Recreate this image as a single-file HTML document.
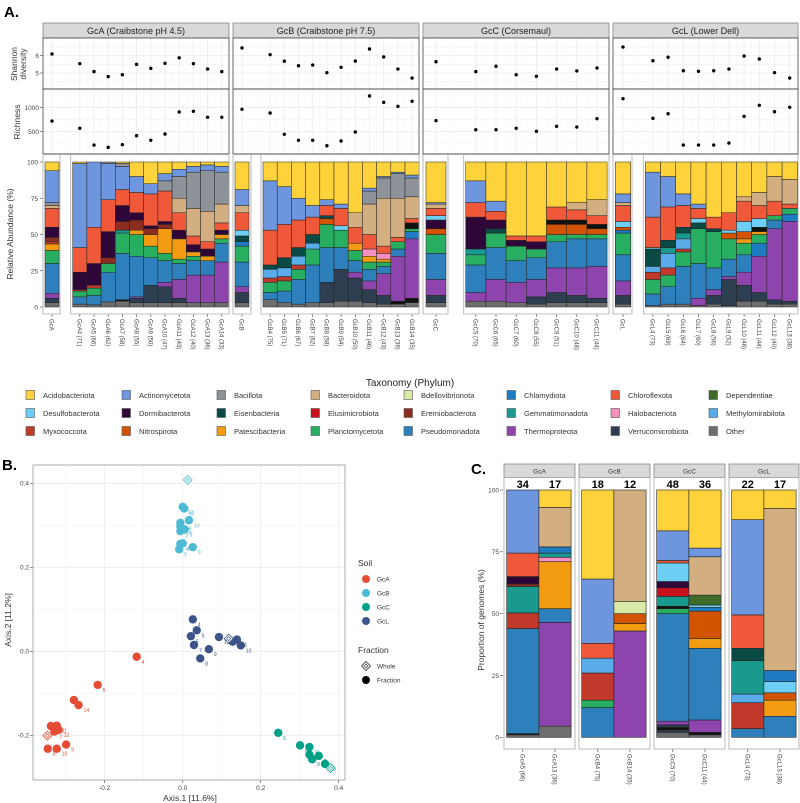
<!DOCTYPE html>
<html><head><meta charset="utf-8"><style>
html,body{margin:0;padding:0;background:#fff}
svg{display:block;font-family:"Liberation Sans","DejaVu Sans",sans-serif}
</style></head><body>
<svg id="fig" width="800" height="803" viewBox="0 0 800 803" xmlns="http://www.w3.org/2000/svg"></svg>
<script>
// ---------- DATA ----------
const phylumNames = ['Acidobacteriota','Actinomycetota','Bacillota','Bacteroidota','Bdellovibrionota','Chlamydiota','Chloroflexota','Dependentiae','Desulfobacterota','Dormibacterota','Eisenbacteria','Elusimicrobiota','Eremiobacterota','Gemmatimonadota','Halobacteriota','Methylomirabilota','Myxococcota','Nitrospirota','Patescibacteria','Planctomycetota','Pseudomonadota','Thermoproteota','Verrucomicrobiota','Other'];
const phylumCodes = ['Ac','At','Bc','Bd','Bv','Ch','Cf','De','Ds','Do','Ei','El','Er','Ge','Ha','Me','My','Ni','Pa','Pl','Ps','Th','Ve','Ot'];
const phylumColors = ['#FDD23A','#6E96DE','#8D9399','#D2AE80','#D9E8A4','#1F7BC1','#F0583A','#3E6B2A','#6DCFF6','#2E0637','#0A4A45','#C8101E','#8B2E1F','#1A9A8E','#F690C0','#5AABEA','#C0392B','#D35400','#F39C12','#27AE60','#2E80BD','#8E44AD','#2C3E50','#6E6E6E'];

const panelTitles = ['GcA (Craibstone pH 4.5)','GcB (Craibstone pH 7.5)','GcC (Corsemaul)','GcL (Lower Dell)'];
const sampleNames = [
 ['GcA','GcA4 (71)','GcA5 (66)','GcA6 (62)','GcA7 (58)','GcA8 (55)','GcA9 (50)','GcA10 (47)','GcA11 (43)','GcA12 (40)','GcA13 (36)','GcA14 (33)'],
 ['GcB','GcB4 (75)','GcB5 (71)','GcB6 (67)','GcB7 (62)','GcB8 (58)','GcB9 (54)','GcB10 (50)','GcB11 (46)','GcB12 (43)','GcB13 (39)','GcB14 (35)'],
 ['GcC','GcC5 (70)','GcC6 (65)','GcC7 (60)','GcC8 (55)','GcC9 (51)','GcC10 (48)','GcC11 (44)'],
 ['GcL','GcL4 (73)','GcL5 (69)','GcL6 (64)','GcL7 (60)','GcL8 (56)','GcL9 (52)','GcL10 (48)','GcL11 (44)','GcL12 (40)','GcL13 (38)']
];
const shannonValues = [
 [6.1,5.54,5.08,4.79,4.9,5.5,5.27,5.56,5.88,5.54,5.23,5.08],
 [6.45,6.06,5.68,5.42,5.46,5.02,5.33,5.69,6.39,5.93,5.23,4.71],
 [5.65,5.08,5.39,4.9,4.81,5.23,5.12,5.29],
 [6.5,5.71,5.91,5.13,5.1,5.13,5.23,5.98,5.81,5.02,4.71]
];
const richnessValues = [
 [719,570,227,180,234,418,324,453,904,918,795,795],
 [959,883,447,324,324,213,310,494,1232,1102,1020,1123],
 [726,541,541,570,508,610,596,767],
 [1177,774,869,227,227,227,268,815,1041,910,1000]
];
// stacks: [phylum code, cumulative upper bound %] bottom to top
const abundance = [
 [
  [['Ot',3],['Ve',6],['Th',9.5],['Ps',30],['Pl',39],['Pa',43.5],['My',45],['Er',48],['Do',55],['Cf',68],['Bd',70],['Bc',72],['At',94],['Ac',100]],
  [['Ot',2],['Ps',7],['Pl',11],['My',12],['Do',24],['Cf',41],['At',99],['Ac',100]],
  [['Ot',1.5],['Ps',8],['Pl',13],['My',15],['Do',30],['Cf',55],['At',100]],
  [['Ot',3.5],['Ps',24],['Pl',30],['Er',34],['Do',52],['Cf',74],['At',99],['Bc',100]],
  [['Ot',4],['Bk',5],['Ps',37],['Pl',51],['Ge',53],['Er',59],['Do',70],['Cf',81],['At',97],['Bc',99],['Ac',100]],
  [['Ot',3],['Ve',6],['Th',7],['Ps',35],['Pl',50],['Pa',53],['Er',60],['Do',65],['Cf',79],['At',90],['Ac',100]],
  [['Ot',3],['Ve',15],['Ps',34],['Pl',42],['Pa',50],['Er',54],['Do',56],['Cf',78],['At',85],['Ac',100]],
  [['Ot',3],['Ve',14],['Th',17],['Ps',32],['Pl',37],['Pa',54],['Er',57],['Do',59],['Cf',80],['Bc',87],['At',92],['Ac',100]],
  [['Ot',3],['Ve',6],['Th',19],['Ps',30],['Pl',33],['Pa',47],['Do',53],['Cf',65],['Bd',75],['Bc',90],['At',95],['Ac',100]],
  [['Ot',3],['Th',22],['Ps',32],['Pl',35],['Pa',38],['Do',43],['Cf',49],['Bd',68],['Bc',93],['At',97],['Ac',100]],
  [['Ot',3],['Th',22],['Ps',32],['Pa',35],['Do',40],['Cf',45],['Bd',66],['Bc',94],['At',98],['Ac',100]],
  [['Ot',3],['Th',31],['Ps',44],['Pl',47],['Pa',50],['Do',53],['Cf',58],['Bd',71],['Bc',93],['At',97],['Ac',100]]
 ],
 [
  [['Ot',3],['Ve',10],['Th',14],['Ps',31],['Pl',42],['Ch',45],['Ei',49],['Ds',53],['Cf',65],['Bd',70],['At',81],['Ac',100]],
  [['Ot',5],['Ps',10],['Pl',17],['My',20],['Me',26],['Ei',29],['Cf',53],['At',87],['Ac',100]],
  [['Ot',3],['Ps',11],['Pl',18],['My',21],['Me',27],['Ei',34],['Cf',57],['At',83],['Ac',100]],
  [['Ot',2],['Ps',19],['Pl',26],['My',29],['Me',35],['Ei',41],['Cf',60],['At',75],['Ac',100]],
  [['Ot',3],['Ps',29],['Pl',40],['Me',44],['Ei',50],['Cf',62],['At',70],['Ac',100]],
  [['Ot',3],['Ve',17],['Ps',41],['Pl',57],['Ni',61],['Ei',63],['Cf',70],['At',74],['Ac',100]],
  [['Ot',4],['Ve',26],['Ps',41],['Pl',53],['Ds',56],['Cf',68],['At',71],['Ac',100]],
  [['Ot',4],['Ve',20],['Th',24],['Ps',32],['Pl',39],['Pa',44],['Cf',55],['Bd',65],['Ac',100]],
  [['Ot',3],['Ve',12],['Th',18],['Ps',26],['Pl',31],['Pa',35],['Ha',40],['Cf',50],['Bd',71],['Bc',80],['At',82],['Ac',100]],
  [['Ot',2],['Ve',8],['Th',23],['Ps',28],['Pl',31],['Pa',33],['Ha',37],['Cf',42],['Bd',75],['Bc',89],['At',90],['Ac',100]],
  [['Ot',2],['Bk',4],['Th',35],['Ps',40],['Pl',45],['Cf',48],['Bd',75],['Bc',92],['At',93],['Ac',100]],
  [['Ot',3],['Bk',6],['Th',47],['Ch',52],['Pl',54],['Bk',58],['Cf',61],['Bd',76],['Bc',89],['At',91],['Ac',100]]
 ],
 [
  [['Ot',3],['Ve',8],['Th',19],['Ps',37],['Pl',50],['Ni',54],['Do',60],['Ds',63],['Cf',68],['Bd',71],['At',72],['Ac',100]],
  [['Ot',4],['Th',10],['Ps',29],['Pl',36],['Ge',40],['Do',62],['Cf',72],['At',87],['Ac',100]],
  [['Ot',4],['Th',19],['Ps',41],['Pl',51],['Ei',54],['Do',60],['Cf',66],['At',73],['Ac',100]],
  [['Ot',3],['Th',17],['Ps',32],['Pl',42],['Do',46],['Cf',49],['Ac',100]],
  [['Ot',2],['Ve',7],['Th',19],['Ps',34],['Pl',40],['Do',45],['Cf',49],['Ac',100]],
  [['Ot',3],['Ve',10],['Th',27],['Ps',45],['Pl',50],['Ni',57],['Bk',60],['Cf',69],['Ac',100]],
  [['Ot',3],['Ve',8],['Th',27],['Ps',47],['Pl',50],['Ni',57],['Bk',60],['Cf',67],['Bd',72],['Ac',100]],
  [['Ot',3],['Ve',6],['Th',28],['Ps',47],['Pl',50],['Ni',54],['Bk',57],['Cf',63],['Bd',74],['Ac',100]]
 ],
 [
  [['Ot',2],['Ve',8],['Th',18],['Ps',36],['Pl',51],['Ch',53],['Ni',55],['Ds',59],['Cf',70],['Bd',72],['At',78],['Ac',100]],
  [['Ot',1],['Ps',9],['Pl',19],['My',24],['Me',28],['Ei',40],['Ds',41],['Cf',62],['At',93],['Ac',100]],
  [['Ot',2],['Ps',14],['Pl',22],['My',27],['Me',37],['Ge',41],['Ei',46],['Cf',69],['At',90],['Ac',100]],
  [['Ot',2],['Ps',28],['Pl',38],['My',40],['Me',47],['Ge',51],['Ei',55],['Cf',70],['At',78],['Ac',100]],
  [['Ot',1],['Th',6],['Ps',30],['Pl',54],['Ei',58],['Ds',61],['Cf',68],['At',71],['Ac',100]],
  [['Ot',2],['Ve',8],['Th',12],['Ps',27],['Pl',52],['Ei',54],['Cf',62],['Ac',100]],
  [['Ot',1],['Ve',19],['Th',21],['Ps',33],['Pl',47],['Ni',51],['Ds',53],['Cf',65],['Ac',100]],
  [['Ot',4],['Ve',15],['Th',24],['Ps',36],['Pl',44],['Pa',47],['Ni',52],['Ds',59],['Cf',73],['Bd',76],['Ac',100]],
  [['Ot',4],['Ve',10],['Th',35],['Ch',44],['Pl',50],['Pa',52],['Bk',55],['Ds',61],['Cf',70],['Bd',79],['Ac',100]],
  [['Ot',2],['Ve',5],['Th',54],['Ps',60],['Pl',63],['Cf',73],['Bd',90],['Ac',100]],
  [['Ot',2],['Ve',4],['Th',59],['Ch',64],['Pl',68],['Cf',71],['Bd',88],['Ac',100]]
 ]
];

// Panel B ordination
const soilNames = ['GcA','GcB','GcC','GcL'];
const soilColors = ['#E64B35','#4DBBD5','#00A087','#3C5488'];
const ordLabels = [
 ['4','5','6','14','11','13','12','7','8','10','9'],
 ['12','11','14','10','13','7','8','4','6','5','9'],
 ['5','6','11','7','8','9','10'],
 ['4','5','6','7','8','9','13','11','12','10']
];
const ordX = [
 [-0.118,-0.218,-0.279,-0.267,-0.323,-0.338,-0.318,-0.329,-0.346,-0.323,-0.299],
 [0.0,0.004,-0.006,0.016,-0.006,-0.006,0.005,-0.006,0.0,-0.009,0.026],
 [0.245,0.301,0.325,0.325,0.332,0.349,0.365],
 [0.026,0.036,0.021,0.029,0.045,0.067,0.093,0.139,0.128,0.149]
];
const ordY = [
 [-0.013,-0.080,-0.116,-0.128,-0.177,-0.178,-0.187,-0.191,-0.232,-0.232,-0.222],
 [0.344,0.340,0.306,0.312,0.297,0.286,0.290,0.256,0.257,0.243,0.248],
 [-0.194,-0.224,-0.228,-0.246,-0.257,-0.249,-0.268],
 [0.076,0.050,0.036,0.015,-0.017,0.005,0.034,0.028,0.023,0.014]
];
const wholeX = [-0.347,0.013,0.379,0.118];
const wholeY = [-0.201,0.408,-0.278,0.030];
const bXTicks = [-0.2,0.0,0.2,0.4];
const bYTicks = [-0.2,0.0,0.2,0.4];
const bXTickLabels = ['-0.2','0.0','0.2','0.4'];
const bYTickLabels = ['-0.2','0.0','0.2','0.4'];

// Panel C
const genomeSamples = [['GcA5 (66)','GcA13 (36)'],['GcB4 (75)','GcB14 (35)'],['GcC5 (70)','GcC11 (44)'],['GcL4 (73)','GcL13 (38)']];
const genomeCounts = [[34,17],[18,12],[48,36],[22,17]];
const genomeStacks = [
 [
  [['Ot',1],['Bk',1.5],['Ps',44],['My',50.3],['Ge',61],['Er',62],['Do',65],['Cf',74.5],['At',100]],
  [['Ot',4.5],['Th',46.5],['Ps',52],['Pa',71],['Ha',72.8],['Ge',74.5],['Ch',77],['Bd',93],['Ac',100]]
 ],
 [
  [['Ps',12],['Pl',15],['My',26],['Me',32],['Cf',38],['At',64],['Ac',100]],
  [['Th',43],['Pa',46],['Ni',50],['Bv',55],['Bd',100]]
 ],
 [
  [['Ot',2],['Ve',3],['Bk',4],['Ve',5],['Th',6.5],['Ps',50],['Pl',52],['Bk',53],['Ge',57],['El',60.5],['Do',63],['Ds',70.5],['Cf',71.5],['At',83.5],['Ac',100]],
  [['Ot',1],['Bk',2],['Th',7],['Ps',36],['Pa',40],['Ni',51],['Ch',52.5],['Ds',53.5],['De',57.5],['Bd',73],['At',76.5],['Ac',100]]
 ],
 [
  [['Ps',3.5],['My',14],['Me',17.5],['Ge',31],['Ei',36],['Cf',49.5],['At',88],['Ac',100]],
  [['Ps',8.5],['Pa',15],['Ni',18],['Ds',22.5],['Ch',27],['Bd',92.5],['Ac',100]]
 ]
];
const cYTicks = [0,25,50,75,100];
const aBarTicks = [0,25,50,75,100];
const shannonTicks = [5,6];
const richnessTicks = [500,1000];

// ---------- LAYOUT ----------
const NS='http://www.w3.org/2000/svg';
const svg=document.getElementById('fig');
function mk(tag,attrs,parent,text){const e=document.createElementNS(NS,tag);for(const k in attrs)e.setAttribute(k,attrs[k]);if(text!==undefined)e.textContent=text;(parent||svg).appendChild(e);return e;}
function colorOf(code){if(code==='Bk')return '#111111';return phylumColors[phylumCodes.indexOf(code)];}

const panelLayout=[
 {x0:43,x1:229,wc:52,ww:14,sub0:43,sub1:60,fx:72.7,fw:14.2},
 {x0:233,x1:419,wc:242,ww:14,sub0:233,sub1:251,fx:263,fw:14.2},
 {x0:423,x1:609,wc:436,ww:20,sub0:423,sub1:448,fx:465.7,fw:20.2},
 {x0:613,x1:798,wc:623,ww:15.5,sub0:613,sub1:632,fx:645.3,fw:15.2}
];
const yShan=v=>55.7-(v-6)*17.3;
const yRich=v=>107.3-(v-1000)*0.0488;
const yBar=p=>307-p*1.45;
const xB=v=>182.7+v*390;
const yB=v=>651.3-v*420;
const yC=p=>737.3-p*2.473;

let t=mk('text',{x:4,y:17,'font-size':15,'font-weight':'bold',fill:'#000'},svg,'A.');



t=mk('text',{transform:'translate(17,64) rotate(-90)','text-anchor':'middle','font-size':8.5,fill:'#333'},svg,'Shannon');


t=mk('text',{transform:'translate(26,64) rotate(-90)','text-anchor':'middle','font-size':8.5,fill:'#333'},svg,'diversity');


t=mk('text',{transform:'translate(20,122) rotate(-90)','text-anchor':'middle','font-size':8.5,fill:'#333'},svg,'Richness');


t=mk('text',{transform:'translate(13,234) rotate(-90)','text-anchor':'middle','font-size':8.5,fill:'#333'},svg,'Relative Abundance (%)');



shannonTicks.forEach(v=>{const e=mk('text',{x:39,y:yShan(v)+2.5,'text-anchor':'end','font-size':6.5,fill:'#444'},svg,String(v));
 
 
 mk('line',{x1:40,x2:43,y1:yShan(v),y2:yShan(v),stroke:'#444','stroke-width':0.6});});
richnessTicks.forEach(v=>{const e=mk('text',{x:39,y:yRich(v)+2.5,'text-anchor':'end','font-size':6.5,fill:'#444'},svg,String(v));
 
 
 mk('line',{x1:40,x2:43,y1:yRich(v),y2:yRich(v),stroke:'#444','stroke-width':0.6});});
aBarTicks.forEach(v=>{const e=mk('text',{x:38,y:yBar(v)+2.5,'text-anchor':'end','font-size':6.5,fill:'#444'},svg,String(v));
 
 
 mk('line',{x1:40,x2:43,y1:yBar(v),y2:yBar(v),stroke:'#444','stroke-width':0.6});});

panelLayout.forEach((L,pi)=>{
 const g=mk('g',{});
 
 
 const s=mk('rect',{x:L.x0,y:23,width:L.x1-L.x0,height:15,fill:'#d9d9d9',stroke:'#888','stroke-width':0.8},g);
 
 
 const st=mk('text',{x:(L.x0+L.x1)/2,y:34,'text-anchor':'middle','font-size':9,fill:'#222'},g,panelTitles[pi]);
 
 
 const xs=sampleNames[pi].map((n,i)=>i===0?L.wc:L.fx+L.fw*(i-0.5));
 [[38,89],[89,154]].forEach(([a,b])=>{
  mk('rect',{x:L.x0,y:a,width:L.x1-L.x0,height:b-a,fill:'#fff'},g);
  xs.forEach(x=>mk('line',{x1:x,x2:x,y1:a,y2:b,stroke:'#ebebeb','stroke-width':0.8},g));
  for(let i=0;i<xs.length-1;i++){const m=(xs[i]+xs[i+1])/2;mk('line',{x1:m,x2:m,y1:a,y2:b,stroke:'#f4f4f4','stroke-width':0.5},g);}
 });
 [4.5,5,5.5,6,6.5].forEach(v=>mk('line',{x1:L.x0,x2:L.x1,y1:yShan(v),y2:yShan(v),stroke:(v%1===0)?'#ebebeb':'#f4f4f4','stroke-width':0.8},g));
 [250,500,750,1000,1250].forEach(v=>mk('line',{x1:L.x0,x2:L.x1,y1:yRich(v),y2:yRich(v),stroke:(v%500===0)?'#ebebeb':'#f4f4f4','stroke-width':0.8},g));
 shannonValues[pi].forEach((v,i)=>{const c=mk('circle',{cx:xs[i],cy:yShan(v),r:1.7,fill:'#000'},g);
  
  });
 richnessValues[pi].forEach((v,i)=>{const c=mk('circle',{cx:xs[i],cy:yRich(v),r:1.7,fill:'#000'},g);
  
  });
 mk('rect',{x:L.x0,y:38,width:L.x1-L.x0,height:51,fill:'none',stroke:'#444','stroke-width':0.8},g);
 mk('rect',{x:L.x0,y:89,width:L.x1-L.x0,height:65,fill:'none',stroke:'#444','stroke-width':0.8},g);
 abundance[pi].forEach((stack,i)=>{
  const w=i===0?L.ww:L.fw; const cx=xs[i]; let prev=0;
  stack.forEach(([code,top])=>{
   const r=mk('rect',{x:cx-w/2,y:yBar(top),width:w,height:yBar(prev)-yBar(top),fill:colorOf(code),stroke:'#222','stroke-width':0.5},g);
   
   
   prev=top;});
  mk('line',{x1:cx,x2:cx,y1:314,y2:317,stroke:'#444','stroke-width':0.6},g);
  const lt=mk('text',{transform:`translate(${cx-2.3},319) rotate(90)`,'font-size':6,fill:'#444'},g,sampleNames[pi][i]);
  
  
 });
 mk('line',{x1:L.x0,x2:L.x1,y1:154,y2:154,stroke:'#444','stroke-width':0.8},g);
 mk('polyline',{points:`${L.sub0},154 ${L.sub0},314 ${L.sub1},314 ${L.sub1},154`,fill:'none',stroke:'#aaa','stroke-width':0.8},g);
 mk('polyline',{points:`${L.fx-2},154 ${L.fx-2},314 ${L.x1},314 ${L.x1},154`,fill:'none',stroke:'#aaa','stroke-width':0.8},g);
});

// Legend
t=mk('text',{x:410,y:386,'text-anchor':'middle','font-size':10,fill:'#222'},svg,'Taxonomy (Phylum)');


const legColX=[26,122,217,311,404,507,611,709];
const legRowY=[395,413,431];
phylumNames.forEach((n,i)=>{
 const c2=i%8, r2=Math.floor(i/8);
 const g=mk('g',{});
 
 
 mk('rect',{x:legColX[c2],y:legRowY[r2]-4.5,width:8.5,height:9,fill:phylumColors[i],stroke:'#555','stroke-width':0.6},g);
 mk('text',{x:legColX[c2]+17,y:legRowY[r2]+3,'font-size':7.5,fill:'#333'},g,n);
});

// ---------- Panel B ----------
t=mk('text',{x:2,y:470,'font-size':15,'font-weight':'bold',fill:'#000'},svg,'B.');


const bg=mk('g',{});


mk('rect',{x:33,y:465,width:312,height:315,fill:'#fff'},bg);
[-0.3,-0.1,0.1,0.3].forEach(v=>mk('line',{x1:xB(v),x2:xB(v),y1:465,y2:780,stroke:'#f4f4f4','stroke-width':0.6},bg));
[-0.3,-0.1,0.1,0.3].forEach(v=>mk('line',{y1:yB(v),y2:yB(v),x1:33,x2:345,stroke:'#f4f4f4','stroke-width':0.6},bg));
bXTicks.forEach((v,i)=>{mk('line',{x1:xB(v),x2:xB(v),y1:465,y2:780,stroke:'#ebebeb','stroke-width':0.8},bg);
 mk('line',{x1:xB(v),x2:xB(v),y1:780,y2:783,stroke:'#444','stroke-width':0.6},bg);
 const e=mk('text',{x:xB(v),y:790,'text-anchor':'middle','font-size':6.5,fill:'#444'},bg,bXTickLabels[i]);
 
 });
bYTicks.forEach((v,i)=>{mk('line',{y1:yB(v),y2:yB(v),x1:33,x2:345,stroke:'#ebebeb','stroke-width':0.8},bg);
 mk('line',{x1:30,x2:33,y1:yB(v),y2:yB(v),stroke:'#444','stroke-width':0.6},bg);
 const e=mk('text',{x:29,y:yB(v)+2.3,'text-anchor':'end','font-size':6.5,fill:'#444'},bg,bYTickLabels[i]);
 
 });
soilNames.forEach((s,si)=>{
 ordX[si].forEach((v,i)=>{
  const c=mk('circle',{cx:xB(v),cy:yB(ordY[si][i]),r:4.2,fill:soilColors[si]},bg);
  
  
  const l=mk('text',{x:xB(v)+5,y:yB(ordY[si][i])+7,'font-size':5,fill:soilColors[si]},bg,ordLabels[si][i]);
  
  
 });
 const wx=xB(wholeX[si]), wy=yB(wholeY[si]);
 const d=mk('polygon',{points:`${wx},${wy-4.5} ${wx+4.5},${wy} ${wx},${wy+4.5} ${wx-4.5},${wy}`,fill:'#fff',stroke:soilColors[si],'stroke-width':0.8},bg);
 
 
 mk('polygon',{points:`${wx},${wy-2} ${wx+2},${wy} ${wx},${wy+2} ${wx-2},${wy}`,fill:'none',stroke:soilColors[si],'stroke-width':0.7},bg);
});
mk('rect',{x:33,y:465,width:312,height:315,fill:'none',stroke:'#999','stroke-width':0.8},bg);
t=mk('text',{x:190,y:801,'text-anchor':'middle','font-size':8.5,fill:'#333'},svg,'Axis.1   [11.6%]');


t=mk('text',{transform:'translate(11,620) rotate(-90)','text-anchor':'middle','font-size':8.5,fill:'#333'},svg,'Axis.2   [11.2%]');


t=mk('text',{x:358,y:566,'font-size':8.5,fill:'#333'},svg,'Soil');


soilNames.forEach((s,i)=>{const y=579+i*14;
 const g=mk('g',{});
 
 
 mk('circle',{cx:366,cy:y,r:4,fill:soilColors[i]},g);
 mk('text',{x:377,y:y+2.5,'font-size':6.5,fill:'#333'},g,s);});
t=mk('text',{x:358,y:653,'font-size':8.5,fill:'#333'},svg,'Fraction');


const fw=mk('g',{});


mk('polygon',{points:'366,661.5 370.5,666 366,670.5 361.5,666',fill:'#fff',stroke:'#333','stroke-width':0.8},fw);
mk('polygon',{points:'366,664 368,666 366,668 364,666',fill:'none',stroke:'#333','stroke-width':0.7},fw);
mk('text',{x:377,y:668.5,'font-size':6.5,fill:'#333'},fw,'Whole');
const ff=mk('g',{});


mk('circle',{cx:366,cy:680,r:4,fill:'#000'},ff);
mk('text',{x:377,y:682.5,'font-size':6.5,fill:'#333'},ff,'Fraction');

// ---------- Panel C ----------
t=mk('text',{x:471,y:474,'font-size':15,'font-weight':'bold',fill:'#000'},svg,'C.');


const cPanels=[{x0:504,x1:575,b0:506.7},{x0:579,x1:650,b0:581.7},{x0:654,x1:725,b0:656.7},{x0:729,x1:799,b0:731.7}];
const cbw=32.2;
cYTicks.forEach(v=>{mk('line',{x1:500,x2:503,y1:yC(v),y2:yC(v),stroke:'#444','stroke-width':0.6});
 const e=mk('text',{x:499,y:yC(v)+2.3,'text-anchor':'end','font-size':6.5,fill:'#444'},svg,String(v));
 
 });
t=mk('text',{transform:'translate(484,620) rotate(-90)','text-anchor':'middle','font-size':8.5,fill:'#333'},svg,'Proportion of genomes (%)');


cPanels.forEach((P,pi)=>{
 const g=mk('g',{});
 
 
 const s=mk('rect',{x:P.x0,y:464,width:P.x1-P.x0,height:13.5,fill:'#d9d9d9',stroke:'#888','stroke-width':0.8},g);
 
 
 mk('text',{x:(P.x0+P.x1)/2,y:473.5,'text-anchor':'middle','font-size':6.5,fill:'#333'},g,soilNames[pi]);
 mk('rect',{x:P.x0,y:477.5,width:P.x1-P.x0,height:271.5,fill:'none',stroke:'#aaa','stroke-width':0.8},g);
 genomeStacks[pi].forEach((stack,bi)=>{
  const x=P.b0+bi*cbw; let prev=0;
  stack.forEach(([code,top])=>{
   const r=mk('rect',{x:x,y:yC(top),width:cbw,height:yC(prev)-yC(top),fill:colorOf(code),stroke:'#222','stroke-width':0.6},g);
   
   
   prev=top;});
  const n=mk('text',{x:x+cbw/2,y:488,'text-anchor':'middle','font-size':11,'font-weight':'bold',fill:'#000'},g,String(genomeCounts[pi][bi]));
  
  
  mk('line',{x1:x+cbw/2,x2:x+cbw/2,y1:749,y2:752,stroke:'#444','stroke-width':0.6},g);
  const lt=mk('text',{transform:`translate(${x+cbw/2-2.3},754) rotate(90)`,'font-size':6,fill:'#444'},g,genomeSamples[pi][bi]);
  
  
 });
});
</script>
</body></html>
